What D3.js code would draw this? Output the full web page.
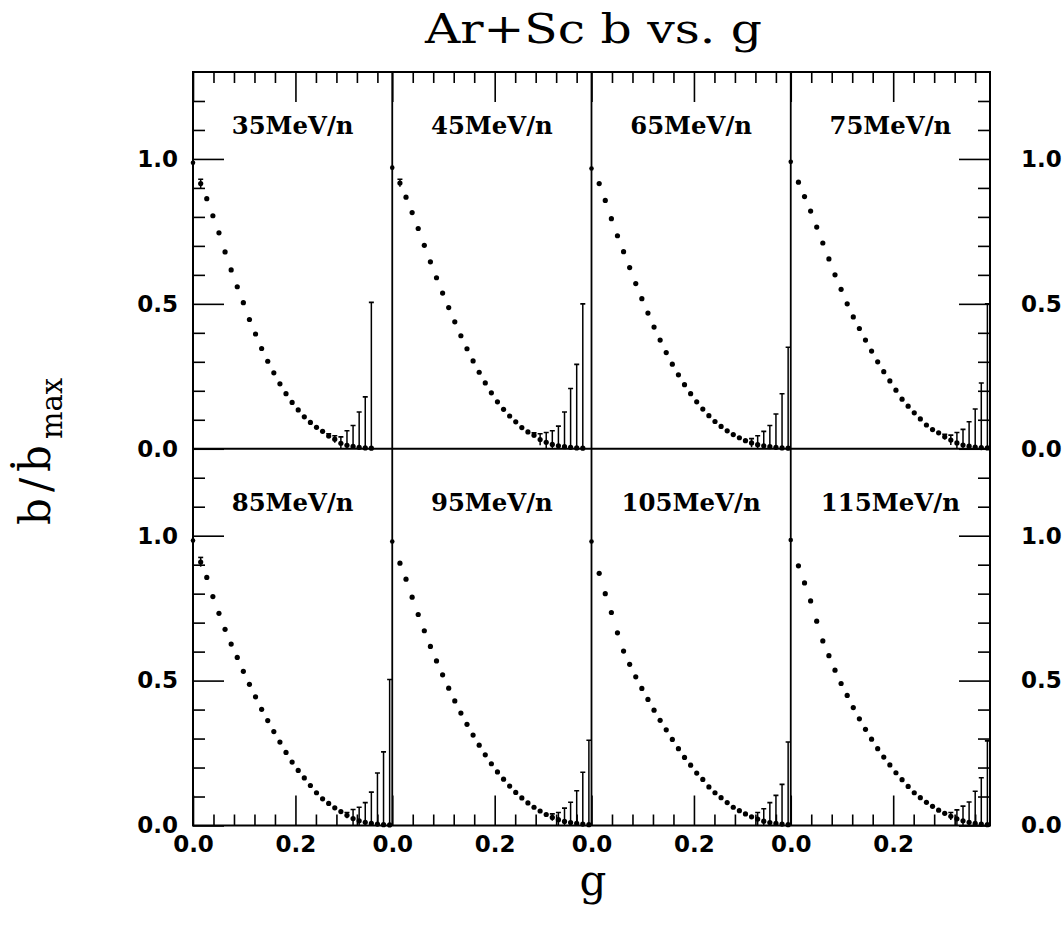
<!DOCTYPE html>
<html>
<head>
<meta charset="utf-8">
<script src="https://cdn.jsdelivr.net/npm/d3@7"></script>
<style>
body{margin:0;background:#fff}
</style>
</head>
<body>
<div class="main"></div>
<script>
// panel titles (beam energy)
var energies = ["35MeV/n","45MeV/n","65MeV/n","75MeV/n","85MeV/n","95MeV/n","105MeV/n","115MeV/n"];

// g bin centres shared by every panel
var gBins = [0, 0.0150, 0.0269, 0.0388, 0.0507, 0.0626, 0.0745, 0.0864, 0.0983, 0.1102,
             0.1221, 0.1340, 0.1459, 0.1578, 0.1697, 0.1816, 0.1935, 0.2054, 0.2173, 0.2292,
             0.2411, 0.2530, 0.2649, 0.2768, 0.2887, 0.3006, 0.3125, 0.3244, 0.3363, 0.3482,
             0.3601, 0.3720, 0.3839];

// b/bmax per bin
var b35 = [0.987,0.915,0.863,0.804,0.745,0.679,0.617,0.559,0.504,0.446,0.396,0.346,0.302,0.262,0.224,0.190,0.160,0.134,0.110,0.091,0.074,0.060,0.044,0.033,0.019,0.012,0.008,0.005,0.003,0.002];
var b45 = [0.970,0.917,0.868,0.815,0.760,0.702,0.645,0.590,0.537,0.487,0.438,0.390,0.345,0.303,0.264,0.227,0.193,0.162,0.136,0.113,0.093,0.073,0.058,0.047,0.032,0.022,0.015,0.010,0.007,0.005,0.003,0.002];
var b65 = [0.967,0.915,0.857,0.794,0.735,0.680,0.625,0.570,0.518,0.468,0.420,0.375,0.332,0.292,0.255,0.221,0.190,0.162,0.137,0.114,0.094,0.077,0.062,0.049,0.038,0.028,0.020,0.014,0.010,0.007,0.005,0.003,0.002];
var b75 = [0.990,0.920,0.870,0.820,0.765,0.710,0.655,0.600,0.550,0.500,0.455,0.415,0.375,0.337,0.300,0.266,0.234,0.202,0.171,0.147,0.124,0.103,0.082,0.066,0.055,0.041,0.030,0.020,0.013,0.009,0.006,0.004,0.003];
var b85 = [0.983,0.909,0.856,0.790,0.732,0.677,0.626,0.580,0.532,0.487,0.444,0.401,0.362,0.324,0.288,0.252,0.219,0.190,0.164,0.138,0.113,0.092,0.076,0.061,0.048,0.035,0.024,0.016,0.011,0.007,0.005,0.003,0.002];
var b95 = [0.980,0.905,0.850,0.788,0.728,0.672,0.618,0.568,0.520,0.474,0.430,0.388,0.349,0.312,0.277,0.244,0.213,0.185,0.160,0.136,0.114,0.095,0.078,0.063,0.050,0.038,0.028,0.020,0.014,0.010,0.007,0.005,0.003];
var b105 = [0.980,0.870,0.800,0.735,0.665,0.602,0.556,0.513,0.473,0.435,0.398,0.363,0.330,0.297,0.265,0.235,0.208,0.181,0.159,0.133,0.113,0.096,0.079,0.063,0.051,0.040,0.030,0.022,0.015,0.010,0.007,0.005,0.003];
var b115 = [0.985,0.896,0.837,0.775,0.705,0.637,0.586,0.536,0.490,0.449,0.407,0.368,0.332,0.298,0.265,0.236,0.209,0.182,0.158,0.135,0.113,0.096,0.080,0.066,0.053,0.042,0.032,0.023,0.016,0.011,0.007,0.005,0.003];

// error bars: [bin index, top of bar]
var err35 = [[1,0.93],[22,0.052],[23,0.045],[24,0.041],[25,0.062],[26,0.080],[27,0.127],[28,0.179],[29,0.505]];
var err45 = [[1,0.93],[23,0.055],[24,0.052],[25,0.056],[26,0.062],[27,0.078],[28,0.127],[29,0.208],[30,0.291],[31,0.500]];
var err65 = [[26,0.035],[27,0.045],[28,0.060],[29,0.080],[30,0.120],[31,0.190],[32,0.350]];
var err75 = [[25,0.050],[26,0.047],[27,0.056],[28,0.067],[29,0.093],[30,0.137],[31,0.227],[32,0.500]];
var err85 = [[1,0.925],[25,0.045],[26,0.055],[27,0.063],[28,0.079],[29,0.115],[30,0.181],[31,0.254],[32,0.504]];
var err95 = [[26,0.040],[27,0.045],[28,0.060],[29,0.080],[30,0.120],[31,0.184],[32,0.294]];
var err105 = [[27,0.045],[28,0.058],[29,0.079],[30,0.104],[31,0.142],[32,0.288]];
var err115 = [[26,0.045],[27,0.054],[28,0.067],[29,0.081],[30,0.118],[31,0.165],[32,0.292]];

// ticks
var yMinor = [0.1,0.2,0.3,0.4,0.6,0.7,0.8,0.9,1.1,1.2];
var yMajor = [0,0.5,1.0];
var xMinor = [0.04,0.08,0.12,0.16,0.24,0.28,0.32,0.36];
var xMajor = [0,0.2];

var vals = [b35,b45,b65,b75,b85,b95,b105,b115];
var errs = [err35,err45,err65,err75,err85,err95,err105,err115];

const frame = {left:193, right:990, top:72, bottom:825.5};
const pw = (frame.right-frame.left)/4;
const ph = (frame.bottom-frame.top)/2;

var svg = d3.select(".main").append("svg")
            .attr("width",1064)
            .attr("height",934);

var fmt = d3.format(".1f");

energies.forEach(function(name,i){
    var col = i%4, row = Math.floor(i/4);
    var x0 = frame.left+col*pw, y0 = frame.top+row*ph;
    var x = d3.scaleLinear().domain([0,0.389]).range([x0,x0+pw]);
    var y = d3.scaleLinear().domain([0,1.3]).range([y0+ph,y0]);
    var g = svg.append("g");

    svg.append("clipPath").attr("id","clip"+i)
        .append("rect").attr("x",x0).attr("y",y0).attr("width",pw).attr("height",ph);

    // panel label
    g.append("text")
        .attr("x",x(0)+pw/2)
        .attr("y",y0+62)
        .attr("text-anchor","middle")
        .attr("textLength",name.length*17.4)
        .attr("lengthAdjust","spacingAndGlyphs")
        .text(name)
        .style("font-family","'DejaVu Serif'")
        .style("font-weight","bold")
        .style("font-size","24px");

    // error bars
    var eb = g.append("g").attr("clip-path","url(#clip"+i+")");
    var pts = vals[i];
    errs[i].forEach(function(e){
        var v = pts[e[0]], gx = x(gBins[e[0]]);
        var lo = Math.max(0, 2*v-e[1]);
        eb.append("line")
            .attr("x1",gx).attr("x2",gx)
            .attr("y1",y(lo)).attr("y2",y(e[1]))
            .attr("stroke","black").attr("stroke-width",1.5);
        eb.append("line")
            .attr("x1",gx-2.5).attr("x2",gx+2.5)
            .attr("y1",y(e[1])).attr("y2",y(e[1]))
            .attr("stroke","black").attr("stroke-width",1.6);
    });

    // points
    g.selectAll("circle")
        .data(pts)
        .enter()
        .append("circle")
        .attr("cx",function(d,k){ return x(gBins[k]); })
        .attr("cy",function(d){ return y(d); })
        .attr("r",function(d,k){ return k==0 ? 2.3 : 2.6; })
        .style("fill","black");

    // y ticks on the outer sides
    if(col==0 || col==3){
        var mk = col==0 ? d3.axisLeft : d3.axisRight;
        var ax = col==0 ? x0 : x0+pw;
        svg.append("g")
            .attr("transform","translate("+ax+",0)")
            .call(mk(y).tickValues(yMinor).tickSize(-12).tickFormat(""))
            .call(function(s){ s.select(".domain").remove(); s.selectAll("line").attr("stroke-width",1.6); });
        svg.append("g")
            .attr("transform","translate("+ax+",0)")
            .call(mk(y).tickValues(yMajor).tickSize(-31).tickPadding(col==0 ? 15 : 31).tickFormat(fmt))
            .call(function(s){
                s.select(".domain").remove();
                s.selectAll("line").attr("stroke-width",1.6);
                s.selectAll("text").style("font-family","'DejaVu Sans'").style("font-weight","bold").style("font-size","23px");
            });
    }

    // x ticks on top row (top) and bottom row (bottom)
    var xmk = row==0 ? d3.axisTop : d3.axisBottom;
    var ay = row==0 ? y0 : y0+ph;
    svg.append("g")
        .attr("transform","translate(0,"+ay+")")
        .call(xmk(x).tickValues(xMinor).tickSize(-11).tickFormat(""))
        .call(function(s){ s.select(".domain").remove(); s.selectAll("line").attr("stroke-width",1.6); });
    svg.append("g")
        .attr("transform","translate(0,"+ay+")")
        .call(xmk(x).tickValues(xMajor).tickSize(-30).tickPadding(10).tickFormat(row==1 ? fmt : ""))
        .call(function(s){
            s.select(".domain").remove();
            s.selectAll("line").attr("stroke-width",1.6);
            s.selectAll("text").style("font-family","'DejaVu Sans'").style("font-weight","bold").style("font-size","23px");
        });
});

// frame and dividers
for(var c=1;c<4;c++){
    svg.append("line")
        .attr("x1",frame.left+c*pw).attr("x2",frame.left+c*pw)
        .attr("y1",frame.top).attr("y2",frame.bottom)
        .attr("stroke","black").attr("stroke-width",1.8);
}
svg.append("line")
    .attr("x1",frame.left).attr("x2",frame.right)
    .attr("y1",frame.top+ph).attr("y2",frame.top+ph)
    .attr("stroke","black").attr("stroke-width",1.8);
svg.append("rect")
    .attr("x",frame.left).attr("y",frame.top)
    .attr("width",frame.right-frame.left).attr("height",frame.bottom-frame.top)
    .style("fill","none").style("stroke","black").style("stroke-width",2);

// title
svg.append("text")
    .attr("x",593.5).attr("y",43)
    .attr("text-anchor","middle")
    .attr("textLength",337)
    .attr("lengthAdjust","spacingAndGlyphs")
    .text("Ar+Sc b vs. g")
    .style("font-family","'DejaVu Serif'")
    .style("font-size","41px");

// x axis label
svg.append("text")
    .attr("x",593).attr("y",895)
    .attr("text-anchor","middle")
    .text("g")
    .style("font-family","'DejaVu Serif'")
    .style("font-size","42px");

// y axis label
var yl = svg.append("text")
    .attr("transform","translate(50,525) rotate(-90)")
    .style("font-family","'DejaVu Serif'")
    .style("font-size","42px");
yl.append("tspan").text("b/ḃ").style("letter-spacing","6px");
yl.append("tspan").attr("dy",12).text("max").style("font-size","29px");
</script>
</body>
</html>
